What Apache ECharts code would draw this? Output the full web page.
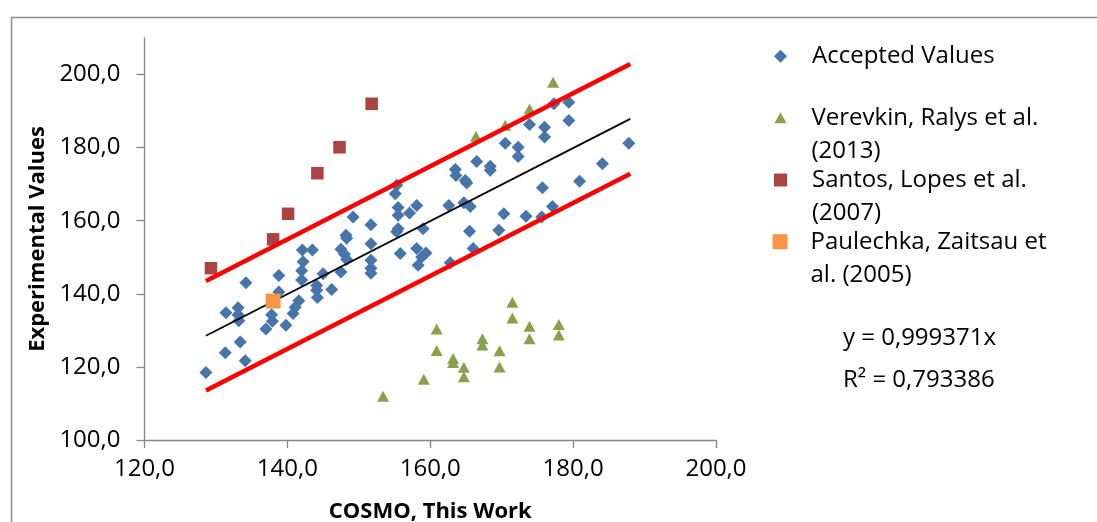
<!DOCTYPE html>
<html>
<head>
<meta charset="utf-8">
<script src="https://cdn.jsdelivr.net/npm/echarts@6/dist/echarts.min.js"></script>
<style>
html,body{margin:0;padding:0;background:#fff;}
#chart{width:1097px;height:522px;}
</style>
</head>
<body>
<div id="chart"></div>
<script>
// ---- data ----
const xTicks = [120, 140, 160, 180, 200];
const yTicks = [100, 120, 140, 160, 180, 200];
const seriesNames = ['Accepted Values', 'Verevkin, Ralys et al.\n(2013)', 'Santos, Lopes et al.\n(2007)', 'Paulechka, Zaitsau et\nal. (2005)'];
const acceptedValues = [
  [128.6,118.5],[131.3,123.9],[133.4,126.8],[134.1,121.7],[131.4,134.8],[133.1,136.2],[133.1,134.3],[133.2,132.6],
  [134.2,143.0],[138.8,145.0],[138.8,140.5],[137.8,134.3],[137.9,132.5],[137.0,130.4],[139.8,131.4],[140.8,134.6],
  [141.1,136.3],[141.6,138.1],[142.1,152.0],[143.5,152.0],[142.2,148.8],[142.0,146.3],[142.0,143.8],[144.1,142.3],
  [144.1,141.0],[144.2,139.0],[145.0,145.5],[146.2,141.2],[147.5,146.0],[147.5,152.2],[148.0,150.8],[148.3,149.4],
  [148.2,156.0],[148.3,155.2],[149.2,161.0],[151.7,158.9],[151.7,153.7],[151.7,149.2],[151.7,147.0],[151.7,145.6],
  [155.3,169.7],[155.1,167.4],[155.5,163.6],[155.5,161.5],[158.1,164.2],[157.1,162.1],[155.3,157.0],[155.5,157.8],
  [155.8,151.0],[158.1,152.4],[159.4,151.2],[158.8,150.1],[158.3,147.8],[159.0,157.8],[162.6,164.2],[164.7,164.9],
  [165.6,163.9],[163.5,174.0],[163.6,172.4],[164.9,171.0],[165.1,170.3],[162.8,148.5],[166.5,176.2],[168.4,174.9],
  [168.4,173.8],[170.5,181.2],[172.3,180.1],[172.3,177.6],[173.9,186.3],[176.0,185.6],[176.0,182.9],[177.3,192.0],
  [179.4,192.4],[179.4,187.4],[187.8,181.2],[184.1,175.6],[180.9,170.8],[175.7,169.0],[170.3,161.9],[173.4,161.2],
  [175.6,161.0],[177.1,163.9],[165.5,157.1],[169.6,157.4],[166.0,152.4]
];
const verevkinValues = [
  [153.4,112.0],[159.1,116.6],[160.9,130.4],[160.9,124.5],[163.2,122.3],[163.2,121.2],[164.7,119.9],[164.7,117.3],
  [167.3,127.7],[167.3,126.0],[169.7,124.4],[169.7,120.0],[171.5,137.7],[171.5,133.4],[173.9,131.1],[173.9,127.7],
  [178.0,131.6],[178.0,128.7],[166.4,183.1],[170.5,186.1],[173.9,190.6],[177.2,197.9]
];
const santosValues = [[129.3,147.0],[138.0,154.9],[140.1,161.9],[144.2,173.0],[147.3,180.1],[151.8,192.0]];
const paulechkaValues = [[138.0,138.0]];
const trendSlope = 0.999371;
const trendXRange = [128.6, 188.0];
const bandOffset = 15;
const equationText = 'y = 0,999371x';
const r2Text = 'R² = 0,793386';

// ---- chart ----
const fmt = v => v.toFixed(1).replace('.', ',');
const trendLine = trendXRange.map(x => [x, trendSlope * x]);
const upperLine = trendXRange.map(x => [x, trendSlope * x + bandOffset]);
const lowerLine = trendXRange.map(x => [x, trendSlope * x - bandOffset]);

const FONT = 'Open Sans';
const FS = 24;
const axisGray = '#868686';
const colors = ['#4674AB', '#8AA14B', '#A94442', '#F79646'];

const legendText = {fontFamily: FONT, fontSize: FS, color: '#000', lineHeight: 33, padding: [0, 0, 0, 20]};
// multi-line entries: a leading blank line keeps the first text line level with the marker
const multiLine = name => '\n' + name;

const chart = echarts.init(document.getElementById('chart'), null, {renderer: 'canvas'});
chart.setOption({
  animation: false,
  backgroundColor: '#fff',
  grid: {left: 144.5, right: 381, top: 38, bottom: 82, outerBoundsMode: 'none', containLabel: false},
  xAxis: {
    type: 'value', min: 120, max: 200, interval: 20,
    axisLine: {show: true, onZero: false, lineStyle: {color: axisGray, width: 1.3}},
    axisTick: {show: true, length: 8, lineStyle: {color: axisGray, width: 1.3}},
    axisLabel: {formatter: fmt, fontFamily: FONT, fontSize: FS, color: '#000', margin: 17},
    splitLine: {show: false},
    name: 'COSMO, This Work', nameLocation: 'middle', nameGap: 61,
    nameTextStyle: {fontFamily: FONT, fontWeight: 'bold', fontSize: 22, color: '#000'}
  },
  yAxis: {
    type: 'value', min: 100, max: 210, interval: 20,
    axisLine: {show: true, onZero: false, lineStyle: {color: axisGray, width: 1.3}},
    axisTick: {show: true, length: 8, customValues: yTicks, lineStyle: {color: axisGray, width: 1.3}},
    axisLabel: {formatter: fmt, customValues: yTicks, fontFamily: FONT, fontSize: FS, color: '#000', margin: 24},
    splitLine: {show: false},
    name: 'Experimental Values', nameLocation: 'middle', nameGap: 95, nameRotate: 90,
    nameTextStyle: {fontFamily: FONT, fontWeight: 'bold', fontSize: 22, color: '#000'}
  },
  legend: [
    {data: [seriesNames[0]], orient: 'vertical', left: 774, top: 39.7, padding: 0, itemWidth: 13, itemHeight: 13,
     selectedMode: false, textStyle: legendText},
    {data: [seriesNames[1]], orient: 'vertical', left: 774.5, top: 68.2, padding: 0, itemWidth: 12, itemHeight: 11,
     selectedMode: false, textStyle: legendText, formatter: multiLine},
    {data: [seriesNames[2]], orient: 'vertical', left: 774, top: 130.5, padding: 0, itemWidth: 13, itemHeight: 13,
     selectedMode: false, textStyle: legendText, formatter: multiLine},
    {data: [seriesNames[3]], orient: 'vertical', left: 772.5, top: 192.2, padding: 0, itemWidth: 15, itemHeight: 15,
     selectedMode: false, textStyle: Object.assign({}, legendText, {padding: [0, 0, 0, 18]}), formatter: multiLine}
  ],
  series: [
    {name: seriesNames[0], type: 'scatter', symbol: 'diamond', symbolSize: 13, data: acceptedValues,
     itemStyle: {color: colors[0], opacity: 1}, z: 2},
    {name: seriesNames[1], type: 'scatter', symbol: 'triangle', symbolSize: [12, 11], data: verevkinValues,
     itemStyle: {color: colors[1], opacity: 1}, z: 2},
    {name: seriesNames[2], type: 'scatter', symbol: 'rect', symbolSize: 12.5, data: santosValues,
     itemStyle: {color: colors[2], opacity: 1}, z: 2},
    {name: 'trend', type: 'line', data: trendLine, showSymbol: false, symbol: 'none',
     lineStyle: {color: '#000', width: 1.8}, z: 3, silent: true},
    {name: 'upper', type: 'line', data: upperLine, showSymbol: false, symbol: 'none',
     lineStyle: {color: '#FF0000', width: 4.5}, z: 3, silent: true},
    {name: 'lower', type: 'line', data: lowerLine, showSymbol: false, symbol: 'none',
     lineStyle: {color: '#FF0000', width: 4.5}, z: 3, silent: true},
    {name: seriesNames[3], type: 'scatter', symbol: 'rect', symbolSize: 15, data: paulechkaValues,
     itemStyle: {color: colors[3], opacity: 1}, z: 4}
  ],
  graphic: [
    {type: 'rect', left: 9, top: 15, silent: true,
     shape: {width: 1200, height: 600}, style: {fill: 'none', stroke: '#8c8c8c', lineWidth: 1.5}},
    {type: 'text', left: 843, top: 326, style: {text: equationText, font: FS + 'px "Open Sans"', fill: '#000'}},
    {type: 'text', left: 843, top: 368, style: {text: r2Text, font: FS + 'px "Open Sans"', fill: '#000'}}
  ]
});
</script>
</body>
</html>
